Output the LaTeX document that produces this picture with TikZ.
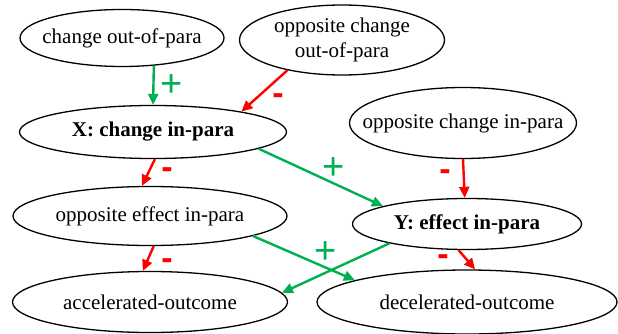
\documentclass[tikz,border=0pt]{standalone}
\usepackage{fontspec}
\setmainfont{LiberationSerif}[Extension=.ttf, UprightFont=*-Regular, BoldFont=*-Bold, ItalicFont=*-Italic, BoldItalicFont=*-BoldItalic]
\newfontfamily\signfont{Liberation Sans}
\usepackage{xcolor}
\usepackage{tikz}
\usetikzlibrary{shapes,arrows.meta,positioning,calc}
\definecolor{posgreen}{RGB}{0,176,80}
\definecolor{negred}{RGB}{255,0,0}

\begin{document}
\begin{tikzpicture}[x=1pt, y=-1pt, font=\rmfamily\fontsize{21}{25}\selectfont,
    box/.style={draw, ellipse, line width=1.3pt, inner xsep=-40pt, inner ysep=0pt, align=center},
    poslink/.style={draw=posgreen, line width=2.4pt, -{Triangle[length=11pt,width=10pt]}},
    neglink/.style={draw=negred, line width=2.4pt, -{Triangle[length=11pt,width=10pt]}},
    plus/.style={text=posgreen, font=\signfont\fontsize{38}{38}\selectfont, inner sep=0pt},
    minus/.style={text=negred, font=\signfont\bfseries\fontsize{34}{34}\selectfont, inner sep=0pt}]
        \useasboundingbox (0,0) rectangle (618,334);

        % causes
        \node [box, minimum width=204pt, minimum height=57pt] (ChgOut) at (122,38) {change out-of-para};
        \node [box, minimum width=205pt, minimum height=70pt] (OppOut) at (342,40) {opposite change\\ out-of-para};
        \node [box, minimum width=267pt, minimum height=53pt] (ChgIn) at (153,132) {\textbf{X: change in-para}};
        \node [box, minimum width=227pt, minimum height=71pt] (OppIn) at (463,123) {opposite change in-para};
        \node [box, minimum width=274pt, minimum height=59pt] (OppEff) at (150,216) {opposite effect in-para};
        \node [box, minimum width=229pt, minimum height=51pt] (Eff) at (467,224) {\textbf{Y: effect in-para}};

        % outcomes
        \node [box, minimum width=275pt, minimum height=61pt] (Acc) at (150,302) {accelerated-outcome};
        \node [box, minimum width=300pt, minimum height=64pt] (Dec) at (467,302) {decelerated-outcome};

        % links
        \draw [poslink] (ChgOut.-41) -- (ChgIn.north);
        \draw [neglink] (OppOut.209) -- (ChgIn.13);
        \draw [neglink] (ChgIn.-86) -- (OppEff.105);
        \draw [poslink] (ChgIn.-9) -- (Eff.168);
        \draw [neglink] (OppIn.south) -- (Eff.95);
        \draw [poslink] (OppEff.-11) -- (Dec.169);
        \draw [poslink] (Eff.194) -- (Acc.4);
        \draw [neglink] (Eff.252) -- (Dec.76);
        \draw [neglink] (OppEff.-83) -- (Acc.103);

        % signs
        \node [plus] (PlusA) at (172,86) {+};
        \node [minus] (MinusA) at (278,99) {-};
        \node [minus] (MinusB) at (167,173) {-};
        \node [plus] (PlusB) at (334,169) {+};
        \node [minus] (MinusC) at (445,175) {-};
        \node [plus] (PlusC) at (326,253) {+};
        \node [minus] (MinusD) at (443,260) {-};
        \node [minus] (MinusE) at (167,264) {-};
    \end{tikzpicture}
\end{document}
